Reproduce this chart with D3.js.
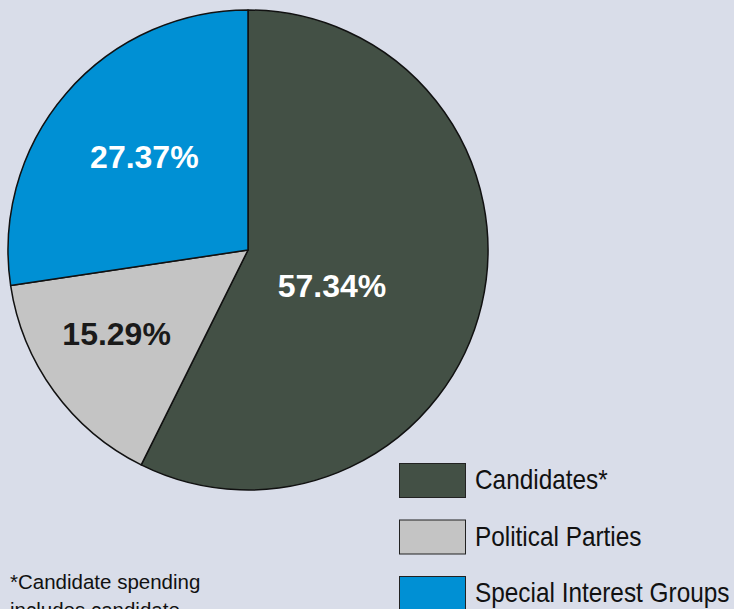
<!DOCTYPE html>
<html>
<head>
<meta charset="utf-8">
<script src="https://cdn.jsdelivr.net/npm/d3@7"></script>
<style>
  html, body { margin: 0; padding: 0; background: #d9dde9; }
  svg { display: block; }
</style>
</head>
<body>
<div class="c-chart"></div>
<script>
    var categories = ["Candidates*", "Political Parties", "Special Interest Groups"];
    var shares = [57.34, 15.29, 27.37];
    var labels = ["57.34%", "15.29%", "27.37%"];
    var footnote = ["*Candidate spending", "includes candidate"];

    var colors = ["#435045", "#c4c4c4", "#0090d4"];
    var labelColors = ["#ffffff", "#1a1a1a", "#ffffff"];

    var width = 734, height = 609;
    var cx = 248, cy = 250, radius = 240;

    // label placement: fraction of radius, angle nudge (radians)
    var labelRadius = [0.38, 0.65, 0.58];
    var labelNudge = [0.17, 0.06, 0.02];

    var data = categories.map(function (c, i) {
        return { name: c, value: shares[i], label: labels[i], i: i };
    });

    var svg = d3.select(".c-chart")
        .append("svg")
        .attr("width", width)
        .attr("height", height);

    var g = svg.append("g")
        .attr("transform", "translate(" + cx + "," + cy + ")");

    var pie = d3.pie()
        .sort(null)
        .value(function (d) { return d.value; });

    var arc = d3.arc()
        .innerRadius(0)
        .outerRadius(radius);

    var arcs = pie(data);

    g.selectAll(".slice")
        .data(arcs)
        .enter()
        .append("path")
        .attr("class", "slice")
        .attr("d", arc)
        .attr("fill", function (d) { return colors[d.data.i]; })
        .attr("stroke", "#111")
        .attr("stroke-width", 1.5)
        .attr("stroke-linejoin", "round");

    g.selectAll(".pct")
        .data(arcs)
        .enter()
        .append("text")
        .attr("class", "pct")
        .attr("transform", function (d) {
            var i = d.data.i;
            var a = (d.startAngle + d.endAngle) / 2 + labelNudge[i];
            var r = radius * labelRadius[i];
            return "translate(" + (r * Math.sin(a)) + "," + (-r * Math.cos(a)) + ")";
        })
        .attr("dy", "0.35em")
        .attr("text-anchor", "middle")
        .style("font-family", "'Liberation Sans', Arial, sans-serif")
        .style("font-weight", "bold")
        .style("font-size", "32px")
        .attr("fill", function (d) { return labelColors[d.data.i]; })
        .text(function (d) { return d.data.label; });

    // legend
    var legendY = d3.scalePoint()
        .domain(categories)
        .range([463, 576]);

    var legend = svg.selectAll(".legend")
        .data(data)
        .enter()
        .append("g")
        .attr("class", "legend")
        .attr("transform", function (d) { return "translate(399," + legendY(d.name) + ")"; });

    legend.append("rect")
        .attr("x", 0.5)
        .attr("y", 0.5)
        .attr("width", 66)
        .attr("height", 34)
        .attr("fill", function (d) { return colors[d.i]; })
        .attr("stroke", "#222")
        .attr("stroke-width", 1);

    // condensed look: squeeze the regular face horizontally
    legend.append("text")
        .attr("transform", "translate(76,26) scale(0.87,1)")
        .style("font-family", "'Liberation Sans', Arial, sans-serif")
        .style("font-size", "28px")
        .attr("fill", "#111")
        .text(function (d) { return d.name; });

    svg.selectAll(".note")
        .data(footnote)
        .enter()
        .append("text")
        .attr("class", "note")
        .attr("x", 10)
        .attr("y", function (d, i) { return 589 + i * 28; })
        .style("font-family", "'Liberation Sans', Arial, sans-serif")
        .style("font-size", "20.5px")
        .attr("fill", "#111")
        .text(function (d) { return d; });
</script>
</body>
</html>
